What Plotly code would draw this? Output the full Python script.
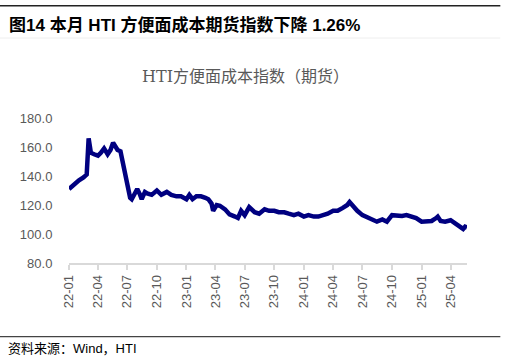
import plotly.graph_objects as go

dates = [
    "2022-01-01", "2022-01-15", "2022-02-01", "2022-02-15", "2022-02-25", "2022-03-03",
    "2022-03-10", "2022-03-20", "2022-04-01", "2022-04-10", "2022-04-20", "2022-05-01",
    "2022-05-10", "2022-05-18", "2022-06-01", "2022-06-10", "2022-06-20", "2022-07-01",
    "2022-07-10", "2022-07-15", "2022-07-25", "2022-08-01", "2022-08-10", "2022-08-15",
    "2022-08-25", "2022-09-01", "2022-09-15", "2022-10-01", "2022-10-15", "2022-11-01",
    "2022-11-15", "2022-12-01", "2022-12-15", "2023-01-01", "2023-01-10", "2023-01-20",
    "2023-02-01", "2023-02-15", "2023-03-01", "2023-03-10", "2023-03-20", "2023-03-25",
    "2023-04-05", "2023-04-15", "2023-05-01", "2023-05-15", "2023-06-01", "2023-06-10",
    "2023-06-20", "2023-07-01", "2023-07-15", "2023-08-01", "2023-08-15", "2023-09-01",
    "2023-09-15", "2023-10-01", "2023-10-15", "2023-11-01", "2023-11-15", "2023-12-01",
    "2023-12-15", "2024-01-01", "2024-01-15", "2024-02-01", "2024-02-15", "2024-03-01",
    "2024-03-15", "2024-04-01", "2024-04-15", "2024-05-01", "2024-05-15", "2024-05-22",
    "2024-06-01", "2024-06-15", "2024-07-01", "2024-07-15", "2024-08-01", "2024-08-15",
    "2024-09-01", "2024-09-15", "2024-10-01", "2024-10-15", "2024-11-01", "2024-11-15",
    "2024-12-01", "2024-12-15", "2025-01-01", "2025-01-15", "2025-02-01", "2025-02-15",
    "2025-02-20", "2025-03-01", "2025-03-15", "2025-04-01", "2025-04-15", "2025-05-01",
    "2025-05-10", "2025-05-16", "2025-05-22",
]
values = [
    131, 134, 137, 139, 141, 166,
    156, 155, 154, 156, 159, 155,
    158, 163, 158, 157, 146, 134,
    125, 124, 129, 131, 127, 124,
    129, 128, 127, 130, 127, 129,
    127, 126, 126, 124, 127, 124,
    126, 126, 125, 124, 121, 116,
    120, 119.5, 117, 113.5, 112, 111,
    116, 113, 118.5, 115, 114, 117,
    116, 116, 115, 115, 114, 113,
    114, 112, 113, 112, 112, 113,
    114, 116, 116, 118, 120, 122,
    119, 116, 113, 111.5, 110, 108.5,
    110, 108.5, 113, 112.5, 112.5, 113,
    112, 111, 108.5, 109, 109, 111,
    112, 109, 108.5, 109.5, 107, 105,
    103.5, 105, 104.5,
]

tick_vals = ["2022-01-01", "2022-04-01", "2022-07-01", "2022-10-01", "2023-01-01",
             "2023-04-01", "2023-07-01", "2023-10-01", "2024-01-01", "2024-04-01",
             "2024-07-01", "2024-10-01", "2025-01-01", "2025-04-01"]
tick_text = ["22-01", "22-04", "22-07", "22-10", "23-01", "23-04", "23-07", "23-10",
             "24-01", "24-04", "24-07", "24-10", "25-01", "25-04"]
y_ticks = [80, 100, 120, 140, 160, 180]

header = "图14 本月 HTI 方便面成本期货指数下降 1.26%"
chart_title = "HTI方便面成本指数（期货）"
source = "资料来源：Wind，HTI"

fig = go.Figure()
fig.add_trace(go.Scatter(
    x=dates, y=values, mode="lines",
    line=dict(color="#000080", width=4.5),
    hoverinfo="skip",
))

L, R, T, B = 69, 39.3, 118, 96
W, H = 506, 359
pw = W - L - R
ph = H - T - B

def px_x(px):
    return (px - L) / pw

def px_y(py):
    return (H - B - py) / ph

fig.update_layout(
    width=W, height=H,
    margin=dict(l=L, r=R, t=T, b=B),
    paper_bgcolor="white", plot_bgcolor="white",
    showlegend=False,
    font=dict(family="Liberation Sans, Arial, Noto Sans CJK SC", color="#595959", size=13),
    xaxis=dict(
        type="date",
        range=["2022-01-01", "2025-05-22"],
        tickvals=tick_vals, ticktext=tick_text,
        tickangle=-90,
        showgrid=False, zeroline=False,
        showline=True, linecolor="#d9d9d9", linewidth=1.5,
        ticks="outside", ticklen=5, tickcolor="#d9d9d9", tickwidth=1.5,
        tickfont=dict(size=13, color="#595959"),
    ),
    yaxis=dict(
        range=[80, 180],
        tickvals=y_ticks,
        tickformat=".1f",
        showgrid=False, zeroline=False, showline=False,
        ticks="outside", ticklen=13, tickcolor="rgba(0,0,0,0)",
        tickfont=dict(size=13, color="#595959"),
    ),
    shapes=[
        dict(type="line", xref="paper", yref="paper",
             x0=px_x(0), x1=px_x(500), y0=px_y(5.7), y1=px_y(5.7),
             line=dict(color="#222222", width=1.5)),
        dict(type="line", xref="paper", yref="paper",
             x0=px_x(0), x1=px_x(500), y0=px_y(38), y1=px_y(38),
             line=dict(color="#eeeeee", width=1)),
        dict(type="line", xref="paper", yref="paper",
             x0=px_x(0), x1=px_x(500), y0=px_y(336.7), y1=px_y(336.7),
             line=dict(color="#444444", width=1.2)),
    ],
    annotations=[
        dict(text="<b>" + header + "</b>", xref="paper", yref="paper",
             x=px_x(7), y=px_y(25), xanchor="left", yanchor="middle", showarrow=False,
             font=dict(family="Liberation Sans, Noto Sans CJK SC", size=17, color="#000000")),
        dict(text=chart_title, xref="paper", yref="paper",
             x=px_x(245), y=px_y(76), xanchor="center", yanchor="middle", showarrow=False,
             font=dict(family="DejaVu Serif, Noto Sans CJK SC", size=16, color="#595959")),
        dict(text=source, xref="paper", yref="paper",
             x=px_x(6), y=px_y(348), xanchor="left", yanchor="middle", showarrow=False,
             font=dict(family="Liberation Sans, Noto Sans CJK SC", size=13, color="#000000")),
    ],
)

fig.write_html("out.html",
               config={"displayModeBar": False},
               post_script="document.body.style.margin='0';document.body.style.overflow='hidden';")
